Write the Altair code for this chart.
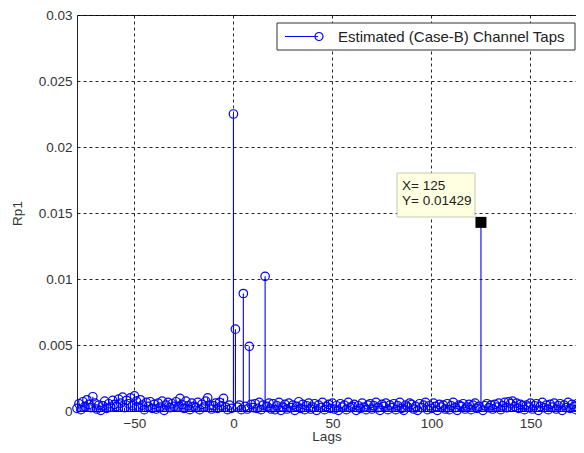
import altair as alt
import pandas as pd

# Lags -79 .. -1 (units of 1e-5)
rp1_neg = [
    20, 55, 10, 70, 35, 85, 50, 25, 108, 60,
    15, 45, 5, 40, 75, 20, 55, 30, 80, 50,
    35, 90, 60, 105, 25, 80, 55, 100, 40, 115,
    75, 30, 85, 45, 10, 65, 35, 70, 20, 50,
    15, 60, 30, 75, 5, 45, 65, 25, 55, 35,
    70, 30, 95, 50, 20, 75, 40, 10, 60, 35,
    25, 65, 10, 50, 30, 75, 100, 45, 15, 40,
    60, 20, 65, 40, 95, 30, 10, 45, 20,
]
# Lags 0 .. 176 (units of 1e-5)
rp1_pos = [
    2250, 620, 30, 45, 10, 890, 35, 15, 490, 50,
    25, 55, 20, 65, 10, 45, 1020, 35, 60, 15,
    55, 10, 40, 65, 5, 30, 50, 15, 60, 25,
    45, 5, 35, 70, 20, 50, 10, 40, 60, 15,
    30, 55, 5, 45, 25, 65, 10, 35, 50, 20,
    60, 15, 40, 5, 55, 30, 45, 10, 65, 25,
    35, 50, 5, 40, 20, 60, 30, 10, 45, 55,
    15, 40, 65, 25, 5, 50, 35, 60, 10, 45,
    25, 55, 10, 40, 65, 20, 5, 45, 30, 60,
    50, 15, 35, 5, 55, 25, 45, 65, 10, 40,
    20, 60, 35, 5, 50, 30, 45, 15, 55, 10,
    40, 65, 25, 5, 45, 35, 55, 15, 30, 50,
    10, 45, 60, 20, 35, 1429, 5, 40, 55, 25,
    45, 15, 50, 30, 60, 10, 40, 65, 25, 70,
    55, 75, 35, 60, 20, 50, 40, 10, 45, 30,
    60, 15, 40, 55, 5, 35, 65, 25, 45, 10,
    50, 30, 60, 15, 40, 55, 5, 45, 25, 65,
    20, 50, 35, 10, 60, 30, 45,
]
lags = list(range(-79, 177))
rp1 = [v * 1e-5 for v in rp1_neg + rp1_pos]

tip_x = [125]
tip_y = [0.01429]

x_ticks = [-50, 0, 50, 100, 150]
y_ticks = [0, 0.005, 0.01, 0.015, 0.02, 0.025, 0.03]
legend_label = "Estimated (Case-B) Channel Taps"

df = pd.DataFrame({"lag": lags, "rp1": rp1})
tip = pd.DataFrame({"lag": tip_x, "rp1": tip_y,
                    "tx": [f"X= {v}" for v in tip_x],
                    "ty": [f"Y= {v}" for v in tip_y]})

FONT = "Liberation Sans"
BLUE = "#0000FF"

xs = alt.Scale(domain=[-79, 173], nice=False, zero=False)
ys = alt.Scale(domain=[0, 0.03], nice=False)

xax = alt.Axis(values=x_ticks, title="Lags", grid=True, ticks=False, domain=False,
               labelPadding=5, titlePadding=0)
yax = alt.Axis(values=y_ticks, title="Rp1", grid=True, ticks=False, domain=False,
               format=".3~f", labelPadding=5, titlePadding=14)

base = alt.Chart(df)
stems = base.mark_rule(color=BLUE, strokeWidth=1.1).encode(
    x=alt.X("lag:Q", scale=xs, axis=xax),
    y=alt.Y("rp1:Q", scale=ys, axis=yax),
    y2=alt.datum(0),
)
points = base.mark_point(shape="circle", filled=False, color=BLUE, size=72,
                         strokeWidth=1.2, opacity=1).encode(
    x=alt.X("lag:Q", scale=xs),
    y=alt.Y("rp1:Q", scale=ys),
)

tipc = alt.Chart(tip)
square = tipc.mark_square(color="black", size=121, opacity=1).encode(
    x=alt.X("lag:Q", scale=xs), y=alt.Y("rp1:Q", scale=ys))
tipbox = tipc.mark_rect(fill="#FFFFE1", stroke="#C8C8B4", strokeWidth=1).encode(
    x=alt.value(320), x2=alt.value(398), y=alt.value(158), y2=alt.value(202))
tiptx = tipc.mark_text(align="left", baseline="alphabetic", font=FONT, fontSize=13.5,
                       color="#222222").encode(x=alt.value(325), y=alt.value(175), text="tx:N")
tipty = tipc.mark_text(align="left", baseline="alphabetic", font=FONT, fontSize=13.5,
                       color="#222222").encode(x=alt.value(325), y=alt.value(190), text="ty:N")

leg = alt.Chart(pd.DataFrame({"label": [legend_label]}))
legbox = leg.mark_rect(fill="white", stroke="#333333", strokeWidth=1).encode(
    x=alt.value(200), x2=alt.value(498), y=alt.value(8), y2=alt.value(35))
legline = leg.mark_rule(color=BLUE, strokeWidth=1.1).encode(
    x=alt.value(208), x2=alt.value(241), y=alt.value(21.5))
legpt = leg.mark_point(shape="circle", filled=False, color=BLUE, size=64,
                       strokeWidth=1.2, opacity=1).encode(x=alt.value(242), y=alt.value(21.5))
legtx = leg.mark_text(align="left", baseline="middle", font=FONT, fontSize=15,
                      color="#222222").encode(x=alt.value(261), y=alt.value(22), text="label:N")

chart = alt.layer(stems, points, square, tipbox, tiptx, tipty,
                  legbox, legline, legpt, legtx).properties(
    width=499, height=396,
    autosize=alt.AutoSizeParams(type="none"),
    padding={"left": 69, "top": 7, "right": 0, "bottom": 34},
    background="white",
).configure_view(stroke="#222222", strokeWidth=1).configure_axis(
    gridColor="#000000", gridDash=[3, 3], gridOpacity=0.85, gridWidth=1,
    labelFont=FONT, labelFontSize=13.5, labelColor="#333333",
    titleFont=FONT, titleFontSize=13.5, titleColor="#333333", titleFontWeight="normal",
)

chart.save("out.html", embed_options={"renderer": "svg", "actions": False})
